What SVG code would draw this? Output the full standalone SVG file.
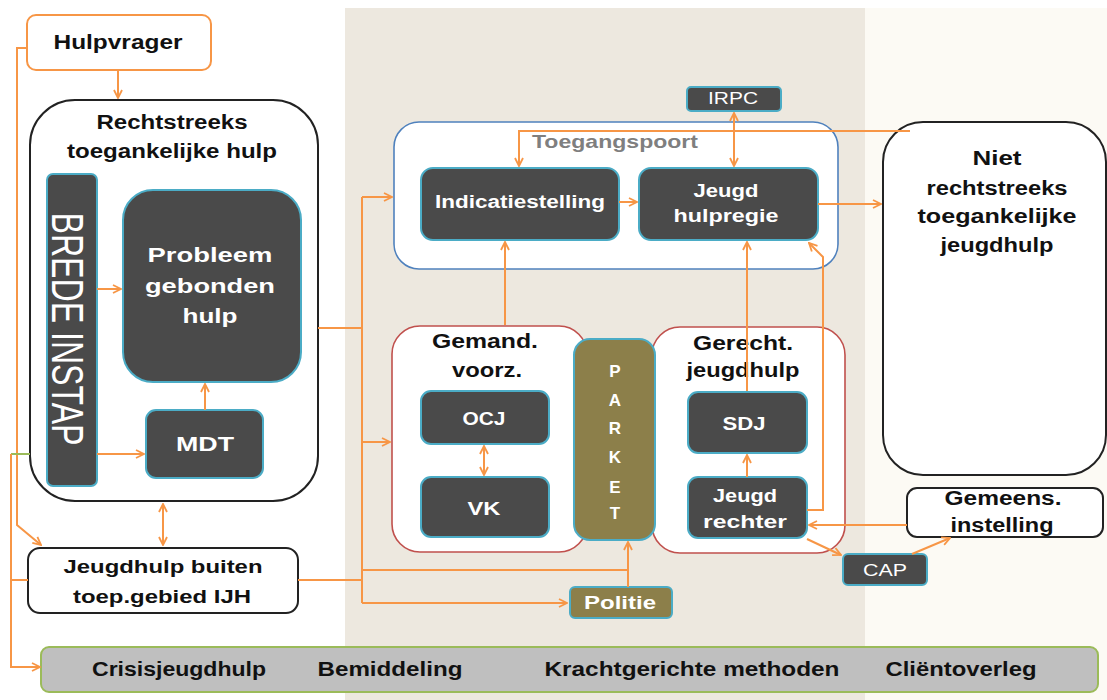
<svg xmlns="http://www.w3.org/2000/svg" width="1107" height="700" viewBox="0 0 1107 700">
<style>
.t{font-family:"Liberation Sans",Arial,sans-serif;font-weight:bold;text-anchor:middle}
.w{fill:#ffffff}
.k{fill:#111111}
.dark{fill:#4a4a4a;stroke:#4bacc6;stroke-width:2}
.ol{fill:#8c7f4a;stroke:#4bacc6;stroke-width:2}
.bk{fill:#ffffff;stroke:#222222;stroke-width:2}
.rd{fill:#ffffff;stroke:#c0504d;stroke-width:1.6}
.c path{stroke:#f79646;stroke-width:2;fill:none}
.a{marker-end:url(#ah)}
.b{marker-end:url(#ah);marker-start:url(#ah)}
</style>
<defs>
<marker id="ah" viewBox="0 0 10 10" refX="9" refY="5" markerWidth="10" markerHeight="10" markerUnits="userSpaceOnUse" orient="auto-start-reverse">
<path d="M1,1 L9,5 L1,9" fill="none" stroke="#f79646" stroke-width="1.8"/>
</marker>
</defs>
<rect x="0" y="0" width="1107" height="700" fill="#ffffff"/>
<rect x="345" y="8" width="520" height="692" fill="#ede8df"/>
<rect x="865" y="8" width="242" height="692" fill="#fcfaf4"/>

<g id="hulpvrager">
<rect x="27" y="15" width="184" height="55" rx="9" fill="#fff" stroke="#f79646" stroke-width="2"/>
<text class="t k" x="118" y="49" font-size="20" textLength="129" lengthAdjust="spacingAndGlyphs">Hulpvrager</text>
</g>

<g id="rechtstreeks">
<rect class="bk" x="30" y="100" width="288" height="401" rx="45"/>
<text class="t k" x="172" y="129" font-size="20" textLength="151" lengthAdjust="spacingAndGlyphs">Rechtstreeks</text>
<text class="t k" x="172" y="158" font-size="20" textLength="210" lengthAdjust="spacingAndGlyphs">toegankelijke hulp</text>
</g>

<g id="brede-instap">
<rect class="dark" x="47" y="174" width="50" height="312" rx="6"/>
<text transform="translate(52,329) rotate(90)" font-family="Liberation Sans, Arial, sans-serif" font-size="45" fill="#fff" text-anchor="middle" textLength="233" lengthAdjust="spacingAndGlyphs">BREDE INSTAP</text>
</g>

<g id="probleem">
<rect class="dark" x="123" y="190" width="178" height="192" rx="30"/>
<text class="t w" x="210" y="262" font-size="21" textLength="125" lengthAdjust="spacingAndGlyphs">Probleem</text>
<text class="t w" x="210" y="293" font-size="21" textLength="130" lengthAdjust="spacingAndGlyphs">gebonden</text>
<text class="t w" x="210" y="323" font-size="21" textLength="55" lengthAdjust="spacingAndGlyphs">hulp</text>
</g>

<g id="mdt">
<rect class="dark" x="146" y="410" width="117" height="68" rx="10"/>
<text class="t w" x="205" y="451" font-size="20" textLength="58" lengthAdjust="spacingAndGlyphs">MDT</text>
</g>

<g id="jeugdhulp-buiten">
<rect class="bk" x="28" y="548" width="270" height="65" rx="12"/>
<text class="t k" x="163" y="573" font-size="19" textLength="199" lengthAdjust="spacingAndGlyphs">Jeugdhulp buiten</text>
<text class="t k" x="162" y="603" font-size="19" textLength="178" lengthAdjust="spacingAndGlyphs">toep.gebied IJH</text>
</g>

<g id="toegangspoort">
<rect x="394" y="122" width="444" height="147" rx="25" fill="#fff" stroke="#4f81bd" stroke-width="1.6"/>
<text class="t" x="615" y="148" font-size="19" fill="#7f7f7f" textLength="166" lengthAdjust="spacingAndGlyphs">Toegangspoort</text>
</g>

<g id="indicatiestelling">
<rect class="dark" x="421" y="168" width="198" height="72" rx="12"/>
<text class="t w" x="520" y="208" font-size="18" textLength="170" lengthAdjust="spacingAndGlyphs">Indicatiestelling</text>
</g>

<g id="jeugdhulpregie">
<rect class="dark" x="639" y="168" width="179" height="72" rx="12"/>
<text class="t w" x="726" y="197" font-size="18" textLength="65" lengthAdjust="spacingAndGlyphs">Jeugd</text>
<text class="t w" x="726" y="222" font-size="18" textLength="105" lengthAdjust="spacingAndGlyphs">hulpregie</text>
</g>

<g id="irpc">
<rect class="dark" x="687" y="87" width="94" height="24" rx="4"/>
<text x="733" y="104" font-family="Liberation Sans, Arial, sans-serif" font-size="16" fill="#fff" text-anchor="middle" textLength="50" lengthAdjust="spacingAndGlyphs">IRPC</text>
</g>

<g id="niet-rechtstreeks">
<rect class="bk" x="883" y="122" width="223" height="353" rx="40"/>
<text class="t k" x="997" y="165" font-size="20" textLength="49" lengthAdjust="spacingAndGlyphs">Niet</text>
<text class="t k" x="997" y="195" font-size="20" textLength="141" lengthAdjust="spacingAndGlyphs">rechtstreeks</text>
<text class="t k" x="997" y="223" font-size="20" textLength="159" lengthAdjust="spacingAndGlyphs">toegankelijke</text>
<text class="t k" x="997" y="252" font-size="20" textLength="113" lengthAdjust="spacingAndGlyphs">jeugdhulp</text>
</g>

<g id="gemand">
<rect class="rd" x="392" y="326" width="195" height="226" rx="28"/>
<text class="t k" x="485" y="348" font-size="20" textLength="106" lengthAdjust="spacingAndGlyphs">Gemand.</text>
<text class="t k" x="487" y="377" font-size="20" textLength="70" lengthAdjust="spacingAndGlyphs">voorz.</text>
</g>

<g id="ocj">
<rect class="dark" x="421" y="391" width="128" height="53" rx="10"/>
<text class="t w" x="484" y="425" font-size="19" textLength="43" lengthAdjust="spacingAndGlyphs">OCJ</text>
</g>

<g id="vk">
<rect class="dark" x="421" y="477" width="128" height="60" rx="10"/>
<text class="t w" x="484" y="515" font-size="19" textLength="33" lengthAdjust="spacingAndGlyphs">VK</text>
</g>

<g id="gerecht">
<rect class="rd" x="652" y="327" width="193" height="226" rx="28"/>
<text class="t k" x="743" y="350" font-size="20" textLength="100" lengthAdjust="spacingAndGlyphs">Gerecht.</text>
<text class="t k" x="743" y="377" font-size="20" textLength="113" lengthAdjust="spacingAndGlyphs">jeugdhulp</text>
</g>

<g id="parket">
<rect class="ol" x="574" y="339" width="81" height="201" rx="16"/>
<text class="t w" x="615" y="377" font-size="17">P</text>
<text class="t w" x="615" y="406" font-size="17">A</text>
<text class="t w" x="615" y="434" font-size="17">R</text>
<text class="t w" x="615" y="463" font-size="17">K</text>
<text class="t w" x="615" y="493" font-size="17">E</text>
<text class="t w" x="615" y="519" font-size="17">T</text>
</g>

<g id="sdj">
<rect class="dark" x="688" y="392" width="119" height="61" rx="10"/>
<text class="t w" x="744" y="430" font-size="19" textLength="43" lengthAdjust="spacingAndGlyphs">SDJ</text>
</g>

<g id="jeugdrechter">
<rect class="dark" x="688" y="477" width="119" height="61" rx="10"/>
<text class="t w" x="745" y="502" font-size="18" textLength="64" lengthAdjust="spacingAndGlyphs">Jeugd</text>
<text class="t w" x="745" y="528" font-size="18" textLength="84" lengthAdjust="spacingAndGlyphs">rechter</text>
</g>

<g id="gemeens">
<rect class="bk" x="907" y="488" width="196" height="49" rx="10"/>
<text class="t k" x="1003" y="505" font-size="20" textLength="117" lengthAdjust="spacingAndGlyphs">Gemeens.</text>
<text class="t k" x="1002" y="532" font-size="20" textLength="103" lengthAdjust="spacingAndGlyphs">instelling</text>
</g>

<g id="cap">
<rect class="dark" x="843" y="554" width="84" height="31" rx="5"/>
<text x="885" y="576" font-family="Liberation Sans, Arial, sans-serif" font-size="16" fill="#fff" text-anchor="middle" textLength="44" lengthAdjust="spacingAndGlyphs">CAP</text>
</g>

<g id="politie">
<rect class="ol" x="570" y="587" width="102" height="31" rx="5"/>
<text class="t w" x="620" y="609" font-size="18" textLength="72" lengthAdjust="spacingAndGlyphs">Politie</text>
</g>

<g id="bottom-bar">
<rect x="41" y="647" width="1057" height="45" rx="8" fill="#bfbfbf" stroke="#9bbb59" stroke-width="2"/>
<text class="t k" x="179" y="676" font-size="20" textLength="174" lengthAdjust="spacingAndGlyphs">Crisisjeugdhulp</text>
<text class="t k" x="390" y="676" font-size="20" textLength="145" lengthAdjust="spacingAndGlyphs">Bemiddeling</text>
<text class="t k" x="692" y="676" font-size="20" textLength="295" lengthAdjust="spacingAndGlyphs">Krachtgerichte methoden</text>
<text class="t k" x="961" y="676" font-size="20" textLength="151" lengthAdjust="spacingAndGlyphs">Cliëntoverleg</text>
</g>

<g id="connectors" class="c">
<path class="a" d="M118,70 V98"/>
<path class="a" d="M27,48 H17 V525 L41,545"/>
<path d="M30,454 H11" style="stroke:#9bbb59"/>
<path class="a" d="M11,454 V667 H40"/>
<path d="M11,580 H28"/>
<path class="a" d="M97,289 H121"/>
<path class="a" d="M97,454 H144"/>
<path class="a" d="M205,410 V384"/>
<path class="b" d="M163,504 V545"/>
<path d="M318,328 H362"/>
<path d="M362,197 V603"/>
<path class="a" d="M362,197 H392"/>
<path class="a" d="M362,442 H390"/>
<path d="M298,580 H362"/>
<path d="M362,570 H628"/>
<path class="a" d="M628,587 V542"/>
<path class="a" d="M362,603 H567"/>
<path class="a" d="M505,325 V242"/>
<path class="a" d="M747,391 V242"/>
<path class="a" d="M807,510 H823 V257 L809,243"/>
<path class="a" d="M619,202 H637"/>
<path class="b" d="M734,113 V166"/>
<path class="a" d="M910,131 H519 V166"/>
<path class="a" d="M818,204 H881"/>
<path class="a" d="M907,525 H809"/>
<path class="a" d="M807,539 L841,555"/>
<path class="a" d="M912,554 L950,538"/>
<path class="b" d="M484,446 V475"/>
<path class="a" d="M747,477 V455"/>
</g>
</svg>
